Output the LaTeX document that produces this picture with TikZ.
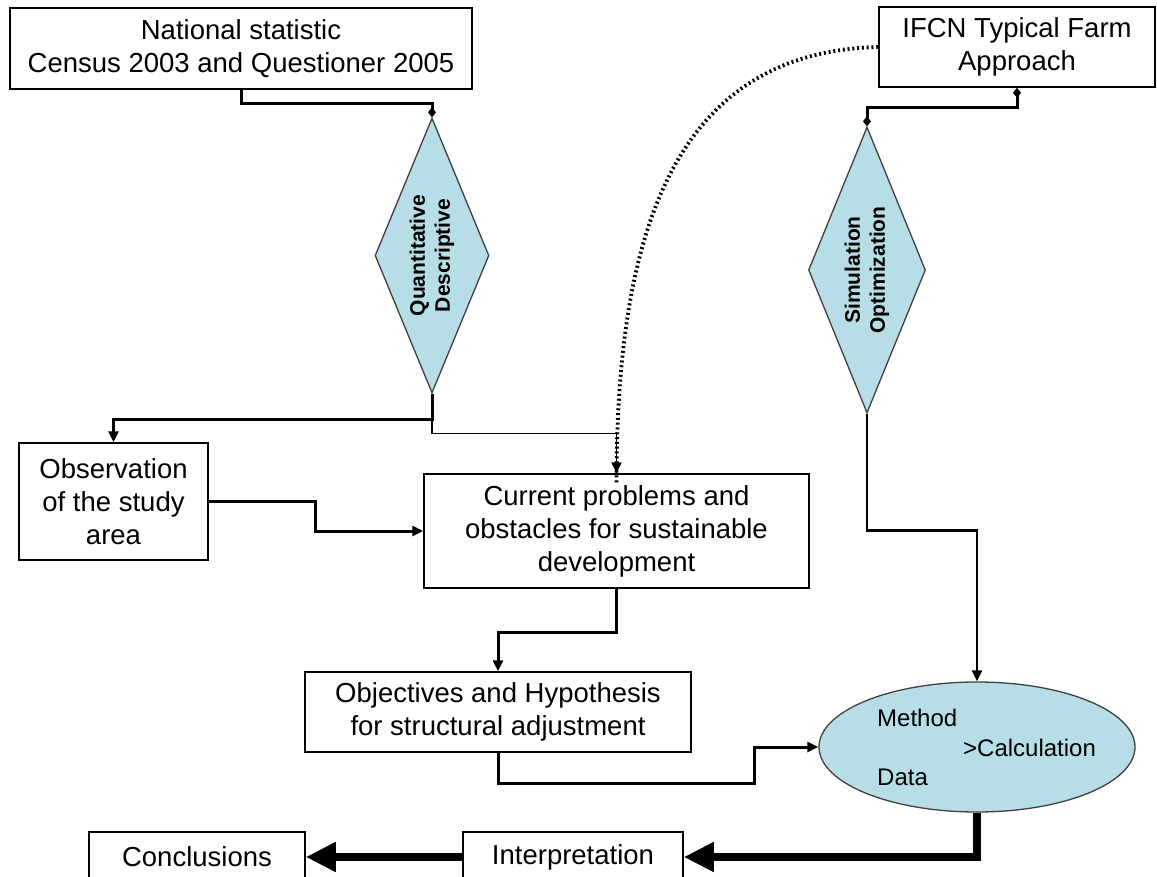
\documentclass[tikz,border=0pt]{standalone}
\usepackage{fontspec}
\setmainfont{Liberation Sans}
\usetikzlibrary{shapes.geometric,arrows.meta}
\definecolor{aqua}{RGB}{183,221,230}
\begin{document}
\begin{tikzpicture}[x=1pt,y=-1pt,
  box/.style={draw=black,line width=1.5pt,fill=white,inner sep=0pt,align=center,
    font=\fontsize{27.5}{33}\selectfont},
  rhomb/.style={diamond,draw=black!75,line width=1.3pt,fill=aqua,inner sep=0pt},
  turned/.style={rotate=90,align=center,inner sep=0pt,font=\bfseries\fontsize{21}{25}\selectfont},
  oval/.style={ellipse,draw=black!75,line width=1.3pt,fill=aqua,inner sep=0pt},
  ovaltext/.style={anchor=west,inner sep=0pt,font=\fontsize{24}{28}\selectfont},
  link/.style={line width=3pt,-{Triangle[length=11pt,width=10pt]}},
  thinlink/.style={line width=1.6pt,-{Triangle[length=11pt,width=10pt]}},
  joint/.style={line width=3pt,{Diamond[length=10pt,width=8pt]}-{Diamond[length=10pt,width=8pt]}},
  jointend/.style={line width=3pt,-{Diamond[length=10pt,width=8pt]}},
  heavy/.style={line width=8pt,-{Triangle[length=30pt,width=28pt]}},
  dots/.style={line width=3.8pt,dash pattern=on 2pt off 2.8pt}
]
\useasboundingbox (0,0) rectangle (1157,877);
\clip (0,0) rectangle (1157,877);
\fill[white] (0,0) rectangle (1157,877);

% boxes
\node[box,minimum width=462pt,minimum height=81pt] (nat) at (241,48.5)
  {National statistic\\Census 2003 and Questioner 2005};
\node[box,minimum width=276pt,minimum height=80pt] (ifcn) at (1017,47)
  {IFCN Typical Farm\\Approach};
\node[box,minimum width=189pt,minimum height=117pt] (obs) at (113.5,501.5)
  {Observation\\of the study\\area};
\node[box,minimum width=385pt,minimum height=114pt] (cur) at (616.5,531)
  {Current problems and\\obstacles for sustainable\\development};
\node[box,minimum width=386pt,minimum height=80pt] (obj) at (498,712)
  {Objectives and Hypothesis\\for structural adjustment};
\node[box,minimum width=220pt,minimum height=50pt] (interp) at (573,857)
  {Interpretation};
\node[box,minimum width=216pt,minimum height=50pt] (concl) at (197,857)
  {Conclusions};

% decision diamonds
\node[rhomb,minimum width=114pt,minimum height=275pt] (quant) at (432,255.5) {};
\node[turned] (quanttext) at (quant.center) {Quantitative\\Descriptive};
\node[rhomb,minimum width=117pt,minimum height=286pt] (sim) at (867,270) {};
\node[turned] (simtext) at (sim.center) {Simulation\\Optimization};

% calculation ellipse
\node[oval,minimum width=316pt,minimum height=130pt] (ell) at (977,747) {};
\node[ovaltext] (ellm) at (877,718) {Method};
\node[ovaltext] (ellc) at (963,748) {>Calculation};
\node[ovaltext] (elld) at (877,777) {Data};

% connectors
\draw[jointend] (nat.south) -- ++(0,14) -| (quant.north);
\draw[joint] (ifcn.south) -- ++(0,20) -| (sim.north);
\draw[link] (quant.south) -- ++(0,26) -| (obs.north);
\draw[thinlink] (quant.south) -- ++(0,40) -| (cur.north);
\draw[dots] (ifcn.west) .. controls +(-210,5) and +(0,-240) .. ([yshift=-10pt]cur.north);
\draw[link] (obs.east) -- ++(107,0) |- (cur.west);
\draw[link] (cur.south) -- ++(0,44) -| (obj.north);
\draw[link] (obj.south) -- ++(0,31) -- ++(256,0) |- (ell.west);
\draw[link,line width=2.5pt] (sim.south) -- ++(0,117) -| (ell.north);
\draw[heavy] (ell.south) |- (interp.east);
\draw[heavy] (interp.west) -- (concl.east);
\end{tikzpicture}
\end{document}
